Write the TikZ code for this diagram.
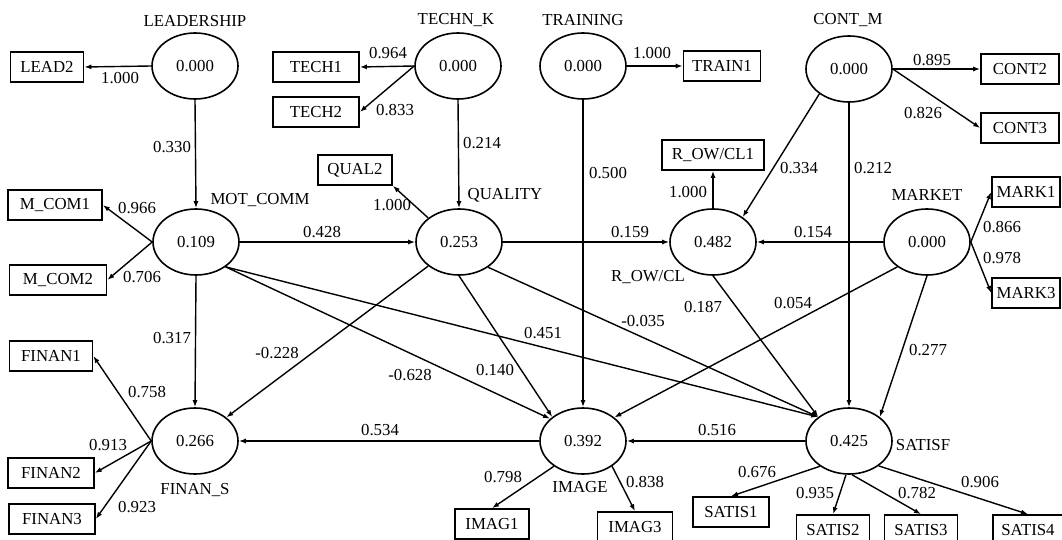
\documentclass[tikz,border=0pt]{standalone}
\usepackage{fontspec}
\setmainfont{Liberation Serif}
\usetikzlibrary{shapes.geometric,arrows.meta}
\tikzset{
  lv/.style={ellipse, draw, line width=1.6pt, minimum width=86pt, minimum height=66pt, inner sep=0pt, font=\fontsize{16.8}{18}\selectfont},
  mv/.style={rectangle, draw, line width=1.6pt, minimum height=30pt, inner sep=0pt, font=\fontsize{16.8}{18}\selectfont},
  lbl/.style={inner sep=0pt, font=\fontsize{16.8}{18}\selectfont},
  arr/.style={-{Latex[length=7pt,width=5pt]}, line width=1.4pt},
}
\begin{document}
\begin{tikzpicture}[x=1pt,y=-1pt]
\useasboundingbox (0,0) rectangle (1062,540);
% latent variables
\node[lv] (lead) at (195,66) {0.000};
\node[lv] (techk) at (458,66) {0.000};
\node[lv] (train) at (583,66) {0.000};
\node[lv] (contm) at (849,69) {0.000};
\node[lv] (motcomm) at (196,242) {0.109};
\node[lv] (quality) at (459,242) {0.253};
\node[lv] (rowcl) at (713,242) {0.482};
\node[lv] (market) at (927,242) {0.000};
\node[lv] (finans) at (195,441) {0.266};
\node[lv] (image) at (583,441) {0.392};
\node[lv] (satisf) at (849,441) {0.425};
% latent names
\node[lbl] (nlead) at (195,21) {LEADERSHIP};
\node[lbl] (ntechk) at (456,20) {TECHN\_K};
\node[lbl] (ntrain) at (583,20) {TRAINING};
\node[lbl] (ncontm) at (848,20) {CONT\_M};
\node[lbl] (nmotcomm) at (260,200) {MOT\_COMM};
\node[lbl] (nquality) at (505,195) {QUALITY};
\node[lbl] (nrowcl) at (648,277) {R\_OW/CL};
\node[lbl] (nmarket) at (927,195) {MARKET};
\node[lbl] (nfinans) at (195,490) {FINAN\_S};
\node[lbl] (nimage) at (580,487) {IMAGE};
\node[lbl] (nsatisf) at (923,445) {SATISF};
% manifest variables
\node[mv, minimum width=73pt] (lead2) at (47,67) {LEAD2};
\node[mv, minimum width=86pt] (tech1) at (316,67) {TECH1};
\node[mv, minimum width=86pt] (tech2) at (316,112) {TECH2};
\node[mv, minimum width=74pt] (qual2) at (355,170) {QUAL2};
\node[mv, minimum width=77pt] (train1) at (722,66) {TRAIN1};
\node[mv, minimum width=102pt] (rowcl1) at (713,155) {R\_OW/CL1};
\node[mv, minimum width=78pt] (cont2) at (1020,69) {CONT2};
\node[mv, minimum width=78pt] (cont3) at (1020,128) {CONT3};
\node[mv, minimum width=94pt] (mcom1) at (55,205) {M\_COM1};
\node[mv, minimum width=97pt] (mcom2) at (58,280) {M\_COM2};
\node[mv, minimum width=68pt] (mark1) at (1026,192) {MARK1};
\node[mv, minimum width=68pt] (mark3) at (1026,293) {MARK3};
\node[mv, minimum width=83pt] (finan1) at (51,356) {FINAN1};
\node[mv, minimum width=86pt] (finan2) at (51,473) {FINAN2};
\node[mv, minimum width=86pt] (finan3) at (52,519) {FINAN3};
\node[mv, minimum width=74pt] (imag1) at (492,524) {IMAG1};
\node[mv, minimum width=75pt] (imag3) at (635,527) {IMAG3};
\node[mv, minimum width=76pt] (satis1) at (731,512) {SATIS1};
\node[mv, minimum width=73pt] (satis2) at (833,530) {SATIS2};
\node[mv, minimum width=73pt] (satis3) at (921,530) {SATIS3};
\node[mv, minimum width=70pt] (satis4) at (1028,530) {SATIS4};
% outer loadings
\draw[arr] (lead.west) -- (lead2.east);
\draw[arr] (techk.west) -- (tech1.east);
\draw[arr] (techk.west) -- (tech2.east);
\draw[arr] (train.east) -- (train1.west);
\draw[arr] (contm.east) -- (cont2.west);
\draw[arr] (contm.east) -- (cont3.west);
\draw[arr] (motcomm.west) -- (mcom1.east);
\draw[arr] (motcomm.west) -- (mcom2.east);
\draw[arr] (quality.142) -- (qual2.south east);
\draw[arr] (rowcl.north) -- (rowcl1.south);
\draw[arr] (market.east) -- (mark1.west);
\draw[arr] (market.east) -- (mark3.west);
\draw[arr] (finans.west) -- (finan1.east);
\draw[arr] (finans.west) -- (finan2.east);
\draw[arr] (finans.west) -- (finan3.east);
\draw[arr] (image.221) -- (imag1.north);
\draw[arr] (image.319) -- (imag3.north);
\draw[arr] (satisf.221) -- (satis1.north);
\draw[arr] (satisf.265) -- (satis2.north);
\draw[arr] (satisf.275) -- (satis3.north);
\draw[arr] (satisf.320) -- (satis4.north);
% path coefficients
\draw[arr] (lead.south) -- (motcomm.north);
\draw[arr] (techk.south) -- (quality.north);
\draw[arr] (train.south) -- (image.north);
\draw[arr] (contm.220) -- (rowcl.40);
\draw[arr] (contm.south) -- (satisf.north);
\draw[arr] (motcomm.east) -- (quality.west);
\draw[arr] (motcomm.south) -- (finans.north);
\draw[arr] (motcomm.320) -- (image.146);
\draw[arr] (motcomm.320) -- (satisf.142);
\draw[arr] (quality.east) -- (rowcl.west);
\draw[arr] (quality.218) -- (finans.37);
\draw[arr] (quality.south) -- (image.142);
\draw[arr] (quality.319) -- (satisf.142);
\draw[arr] (rowcl.south) -- (satisf.142);
\draw[arr] (market.west) -- (rowcl.east);
\draw[arr] (market.220) -- (image.37);
\draw[arr] (market.south) -- (satisf.38);
\draw[arr] (image.west) -- (finans.east);
\draw[arr] (satisf.west) -- (image.east);
% coefficient labels
\node[lbl] (c1) at (120,78) {1.000};
\node[lbl] (c2) at (388,53) {0.964};
\node[lbl] (c3) at (395,110) {0.833};
\node[lbl] (c4) at (482,143) {0.214};
\node[lbl] (c5) at (652,53) {1.000};
\node[lbl] (c6) at (608,173) {0.500};
\node[lbl] (c7) at (932,60) {0.895};
\node[lbl] (c8) at (923,113) {0.826};
\node[lbl] (c9) at (799,168) {0.334};
\node[lbl] (c10) at (873,168) {0.212};
\node[lbl] (c11) at (172,147) {0.330};
\node[lbl] (c12) at (137,208) {0.966};
\node[lbl] (c13) at (142,277) {0.706};
\node[lbl] (c14) at (322,232) {0.428};
\node[lbl] (c15) at (172,338) {0.317};
\node[lbl] (c16) at (277,353) {-0.228};
\node[lbl] (c17) at (392,205) {1.000};
\node[lbl] (c18) at (630,232) {0.159};
\node[lbl] (c19) at (643,321) {-0.035};
\node[lbl] (c20) at (543,333) {0.451};
\node[lbl] (c21) at (688,192) {1.000};
\node[lbl] (c22) at (813,232) {0.154};
\node[lbl] (c23) at (703,307) {0.187};
\node[lbl] (c24) at (793,303) {0.054};
\node[lbl] (c25) at (1002,227) {0.866};
\node[lbl] (c26) at (1002,258) {0.978};
\node[lbl] (c27) at (928,350) {0.277};
\node[lbl] (c28) at (147,392) {0.758};
\node[lbl] (c29) at (108,445) {0.913};
\node[lbl] (c30) at (137,507) {0.923};
\node[lbl] (c31) at (410,375) {-0.628};
\node[lbl] (c32) at (495,370) {0.140};
\node[lbl] (c33) at (380,430) {0.534};
\node[lbl] (c34) at (503,477) {0.798};
\node[lbl] (c35) at (645,482) {0.838};
\node[lbl] (c36) at (717,430) {0.516};
\node[lbl] (c37) at (757,472) {0.676};
\node[lbl] (c38) at (815,493) {0.935};
\node[lbl] (c39) at (917,493) {0.782};
\node[lbl] (c40) at (980,482) {0.906};
\end{tikzpicture}
\end{document}
